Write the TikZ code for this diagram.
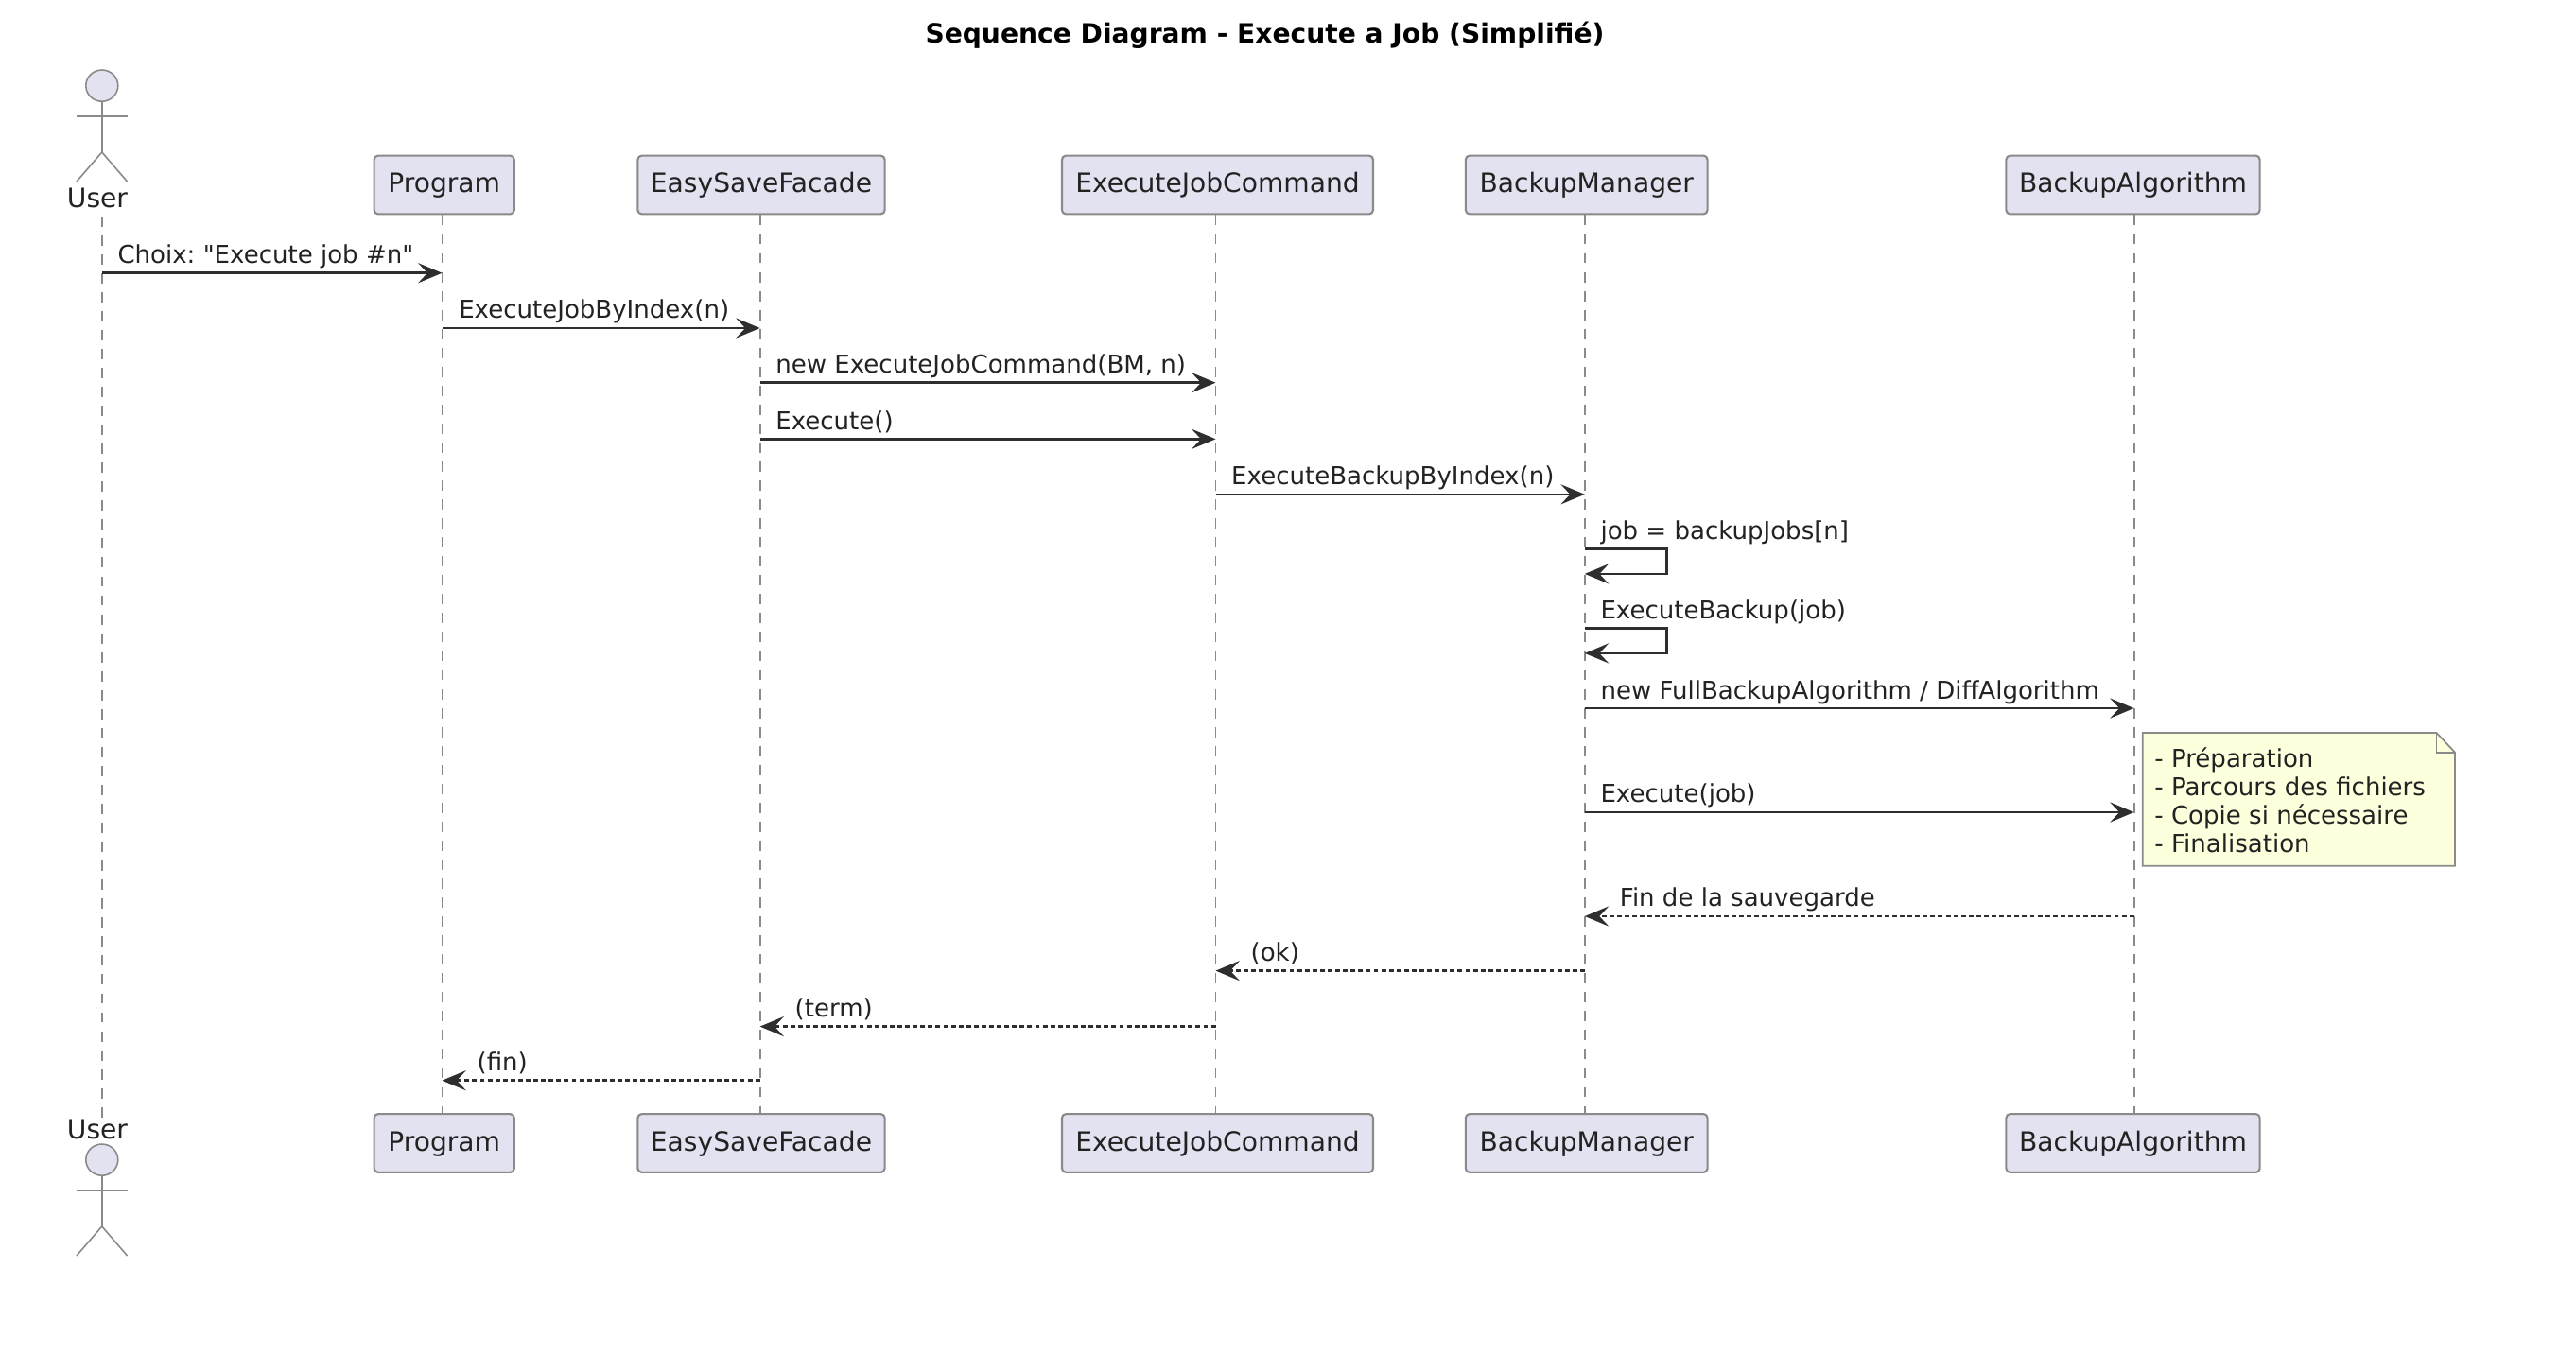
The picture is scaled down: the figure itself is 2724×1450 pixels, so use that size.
\documentclass[tikz,border=0pt]{standalone}
\usepackage{fontspec}
\setmainfont{DejaVu Sans}
\newfontfamily\PlainFont[Ligatures=ResetAll]{DejaVu Sans}
\usetikzlibrary{arrows.meta}
\definecolor{BoxClr}{HTML}{E2E2F0}
\definecolor{NoteClr}{HTML}{FEFFDD}
\definecolor{EdgeClr}{HTML}{8A8A8A}
\definecolor{MsgClr}{HTML}{2E2E2E}
\definecolor{TextClr}{HTML}{222222}
\newcommand{\MsgFont}{\frenchspacing\fontsize{7.4}{8.5}\selectfont}
\newcommand{\BoxFont}{\fontsize{8}{9}\selectfont}

\begin{document}
\begin{tikzpicture}[x=0.01cm,y=-0.01cm,
  partbox/.style={draw=EdgeClr,fill=BoxClr,line width=0.6pt,rounded corners=1.2pt,
    minimum height=62*0.2835pt,inner sep=0pt,text height=6pt,text depth=1.4pt,font=\BoxFont,text=TextClr},
  actorline/.style={draw=EdgeClr,line width=0.45pt},
  actorlbl/.style={font=\BoxFont,text=TextClr,inner sep=0pt},
  lifeline/.style={draw=EdgeClr,line width=0.55pt,dash pattern=on 3.1pt off 2.6pt},
  msg/.style={draw=MsgClr,line width=0.7pt,-{Stealth[length=7.2pt,width=6pt,inset=2.8pt]}},
  ret/.style={msg,dash pattern=on 1.4pt off 0.9pt},
  msglbl/.style={pos=0,anchor=base west,xshift=4.4pt,yshift=2.9pt,inner sep=0pt,font=\MsgFont,text=TextClr},
  retlbl/.style={pos=1,anchor=base west,xshift=10.2pt,yshift=2.9pt,inner sep=0pt,font=\MsgFont,text=TextClr}]
\useasboundingbox (0,0) rectangle (2724,1450);

\node[font=\bfseries\fontsize{8}{9}\selectfont,text=black,inner sep=0pt] (Title) at (1337.5,37) {Sequence Diagram - Execute a Job (Simplifié)};

% lifelines
\coordinate (User) at (107.8,0);
\coordinate (Prog) at (467.5,0);
\coordinate (Facade) at (803.6,0);
\coordinate (Cmd) at (1285.5,0);
\coordinate (Mgr) at (1675.8,0);
\coordinate (Algo) at (2256.6,0);

% message rows
\coordinate (M1) at (0,288.7);
\coordinate (M2) at (0,347);
\coordinate (M3) at (0,404.7);
\coordinate (M4) at (0,464.3);
\coordinate (M5) at (0,522.8);
\coordinate (M6) at (0,580.5);
\coordinate (M6b) at (0,606.9);
\coordinate (M7) at (0,664.3);
\coordinate (M7b) at (0,690.9);
\coordinate (M8) at (0,749);
\coordinate (M9) at (0,859);
\coordinate (M10) at (0,969);
\coordinate (M11) at (0,1026.6);
\coordinate (M12) at (0,1085.6);
\coordinate (M13) at (0,1142.7);

\foreach \name/\cx/\bw/\txt in {Prog/469.7/148.6/Program,Facade/805/262/EasySaveFacade,Cmd/1287.5/330/ExecuteJobCommand,Mgr/1677.7/256.5/BackupManager,Algo/2255.5/269/BackupAlgorithm}{
  \node[partbox,minimum width=\bw*0.2835pt] (\name T) at (\cx,195.5) {\txt};
  \node[partbox,minimum width=\bw*0.2835pt] (\name B) at (\cx,1209) {\txt};
  \draw[lifeline] (\name|-\name T.south) -- (\name|-\name B.north);
}

% actor
\node[actorlbl] (UserT) at (103,209.5) {User};
\node[actorlbl] (UserB) at (103,1194.5) {User};
\draw[lifeline] (User|-UserT.south) ++(0,8) -- (User|-UserB.north);
\foreach \y in {74,1210}{
  \draw[actorline,fill=BoxClr] (107.8,\y+16.6) circle[x radius=17,y radius=16.6];
  \draw[actorline] (107.8,\y+33.2) -- (107.8,\y+87) (81,\y+48.7) -- (134.6,\y+48.7);
  \draw[actorline] (81,\y+118) -- (107.8,\y+87) -- (134.6,\y+118);
}

% messages
\draw[msg] (User|-M1) -- (Prog|-M1) node[msglbl] (T1) {\PlainFont Choix: "Execute job \#n"};
\draw[msg] (Prog|-M2) -- (Facade|-M2) node[msglbl,xshift=0.3pt] (T2) {ExecuteJobByIndex(n)};
\draw[msg] (Facade|-M3) -- (Cmd|-M3) node[msglbl] (T3) {new ExecuteJobCommand(BM, n)};
\draw[msg] (Facade|-M4) -- (Cmd|-M4) node[msglbl] (T4) {Execute()};
\draw[msg] (Cmd|-M5) -- (Mgr|-M5) node[msglbl] (T5) {ExecuteBackupByIndex(n)};
\draw[msg] (Mgr|-M6) -- (1762.7,580.5) node[msglbl] (T6) {job = backupJobs[n]} -- (1762.7,606.9) -- (Mgr|-M6b);
\draw[msg] (Mgr|-M7) -- (1762.7,664.3) node[msglbl] (T7) {ExecuteBackup(job)} -- (1762.7,690.9) -- (Mgr|-M7b);
\draw[msg] (Mgr|-M8) -- (Algo|-M8) node[msglbl,yshift=-0.3pt] (T8) {new FullBackupAlgorithm / DiffAlgorithm};
\draw[msg] (Mgr|-M9) -- (Algo|-M9) node[msglbl] (T9) {Execute(job)};
\draw[ret] (Algo|-M10) -- (Mgr|-M10) node[retlbl] (T10) {Fin de la sauvegarde};
\draw[ret] (Mgr|-M11) -- (Cmd|-M11) node[retlbl] (T11) {(ok)};
\draw[ret] (Cmd|-M12) -- (Facade|-M12) node[retlbl] (T12) {(term)};
\draw[ret] (Facade|-M13) -- (Prog|-M13) node[retlbl] (T13) {(fin)};

% note
\draw[draw=EdgeClr,fill=NoteClr,line width=0.5pt] (2265.7,775) -- (2576.5,775) -- (2596,795.7) -- (2596,915.7) -- (2265.7,915.7) -- cycle;
\draw[draw=EdgeClr,line width=0.5pt] (2576.5,775) -- (2576.5,795.7) -- (2596,795.7);
\node[anchor=west,align=left,inner sep=0pt,font=\MsgFont,text=TextClr] (Note) at (2277.7,846) {- Préparation\\- Parcours des fichiers\\- Copie si nécessaire\\- Finalisation};
\end{tikzpicture}
\end{document}
